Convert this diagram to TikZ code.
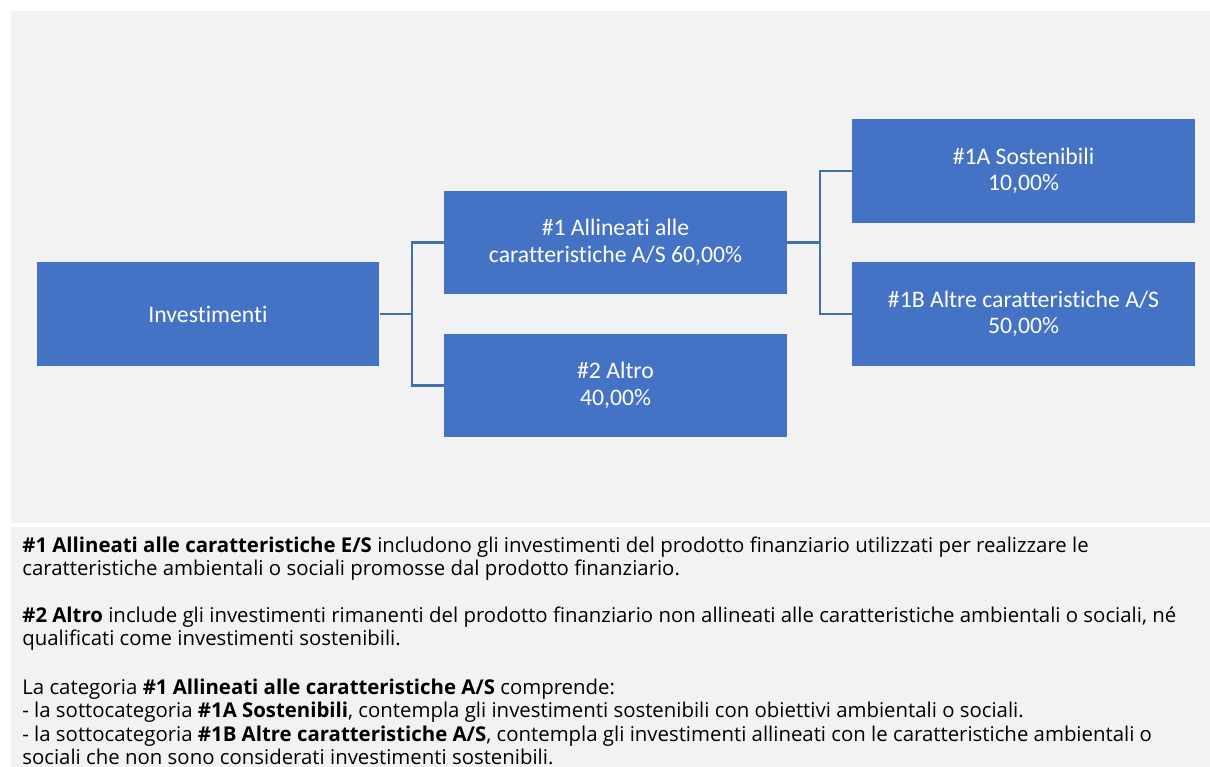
\documentclass[tikz,border=0pt]{standalone}
\usepackage{fontspec}
\setmainfont{Open Sans}
\newfontfamily\calfont[Ligatures=NoCommon]{Carlito}
\usetikzlibrary{positioning}
\definecolor{vakblauw}{RGB}{68,114,196}
\definecolor{lijnblauw}{RGB}{65,113,167}
\definecolor{paneelgrijs}{RGB}{242,242,242}
\tikzset{
  vak/.style={fill=vakblauw, text=white, minimum width=6.86cm, minimum height=2.08cm,
    inner sep=0pt, align=center, font=\calfont\fontsize{13.5}{15.1}\selectfont},
  lijn/.style={draw=lijnblauw, line width=1.2pt},
  regel/.style={anchor=base west, inner sep=0pt, font=\fontsize{11.6}{13.2}\selectfont}
}

\begin{document}
\begin{tikzpicture}[x=0.02cm, y=-0.02cm]
			%%%%% START %%%%%
			\useasboundingbox (0,0) rectangle (1210,767);
			\clip (0,0) rectangle (1210,767);
			
			\fill[paneelgrijs] (11,11) rectangle (1210,523);
			\fill[paneelgrijs] (11,527) rectangle (1210,767);
			
			\node[vak] (inv) at (208,314) {Investimenti};
			\node[vak] (all) at (615.5,242.5) {\#1 Allineati alle\\caratteristiche A/S 60,00\%};
			\node[vak] (altro) at (615.5,385.5) {\#2 Altro\\40,00\%};
			\node[vak] (sost) at (1023.5,171) {\#1A Sostenibili\\10,00\%};
			\node[vak] (altre) at (1023.5,314) {\#1B Altre caratteristiche A/S\\50,00\%};
			
			\draw[lijn] (inv.east) -- ++(32.5,0) |- (all.west);
			\draw[lijn] (inv.east) -- ++(32.5,0) |- (altro.west);
			\draw[lijn] (all.east) -- ++(32.5,0) |- (sost.west);
			\draw[lijn] (all.east) -- ++(32.5,0) |- (altre.west);
			
			\node[regel] (r1) at (22,552) {\textbf{\#1 Allineati alle caratteristiche E/S} includono gli investimenti del prodotto finanziario utilizzati per realizzare le};
			\node[regel] (r2) at (22,575) {caratteristiche ambientali o sociali promosse dal prodotto finanziario.};
			
			\node[regel] (r3) at (22,622) {\textbf{\#2 Altro} include gli investimenti rimanenti del prodotto finanziario non allineati alle caratteristiche ambientali o sociali, né};
			\node[regel] (r4) at (22,645) {qualificati come investimenti sostenibili.};
			
			\node[regel] (r5) at (22,694) {La categoria \textbf{\#1 Allineati alle caratteristiche A/S} comprende:};
			\node[regel] (r6) at (22,717) {- la sottocategoria \textbf{\#1A Sostenibili}, contempla gli investimenti sostenibili con obiettivi ambientali o sociali.};
			\node[regel] (r7) at (22,741) {- la sottocategoria \textbf{\#1B Altre caratteristiche A/S}, contempla gli investimenti allineati con le caratteristiche ambientali o};
			\node[regel] (r8) at (22,764) {sociali che non sono considerati investimenti sostenibili.};
			
			%%%%% END %%%%%
\end{tikzpicture}
\end{document}
